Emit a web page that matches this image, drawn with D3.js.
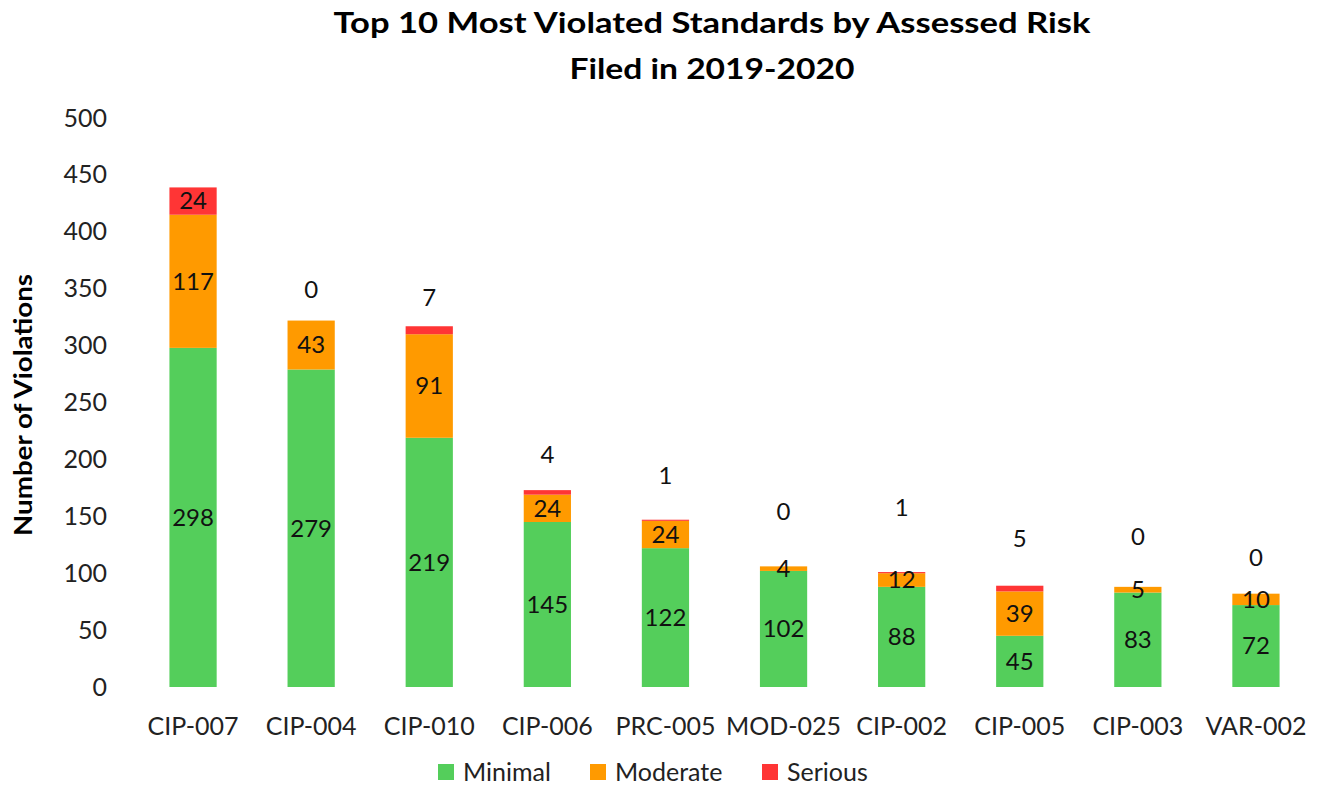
<!DOCTYPE html>
<html>
<head>
<meta charset="utf-8">
<script src="https://cdn.jsdelivr.net/npm/d3@7"></script>
<style>
  body { margin: 0; background: #fff; }
  svg { font-family: Lato, "Open Sans", sans-serif; }
</style>
</head>
<body>
<div id="chart"></div>
<script>
// data
const standards = ['CIP-007', 'CIP-004', 'CIP-010', 'CIP-006', 'PRC-005', 'MOD-025', 'CIP-002', 'CIP-005', 'CIP-003', 'VAR-002']
const minimal  = [298, 279, 219, 145, 122, 102, 88, 45, 83, 72]
const moderate = [117, 43, 91, 24, 24, 4, 12, 39, 5, 10]
const serious  = [24, 0, 7, 4, 1, 0, 1, 5, 0, 0]
// where the Serious labels were dragged to (in axis units), null = centred in segment
const seriousLabelAt = [null, 349, 342, 204, 186, 154, 158, 130, 132, 114]
const yTicks = [0, 50, 100, 150, 200, 250, 300, 350, 400, 450, 500]
const riskLevels = ['Minimal', 'Moderate', 'Serious']
const colors = ['#54ce5b', '#ff9a00', '#ff3535']

let width = 1322,
    height = 789

let svg = d3.select('#chart')
    .append('svg')
    .attr('width', width)
    .attr('height', height)

// build rows for the stack
let rows = standards.map(function (s, i) {
    return { name: s, Minimal: minimal[i], Moderate: moderate[i], Serious: serious[i] }
})

let x = d3.scaleBand()
    .domain(standards)
    .range([134, 1315])
    .paddingInner(0.6)
    .paddingOuter(0.3)

let y = d3.scaleLinear()
    .domain([0, 500])
    .range([687, 118])

let stacked = d3.stack().keys(riskLevels)(rows)

// title (source font is narrow and wide-set, so stretch to its width)
svg.append('text')
    .attr('x', 712).attr('y', 33)
    .attr('text-anchor', 'middle')
    .attr('font-size', 29).attr('font-weight', 'bold')
    .attr('textLength', 757).attr('lengthAdjust', 'spacingAndGlyphs')
    .text('Top 10 Most Violated Standards by Assessed Risk')
svg.append('text')
    .attr('x', 712).attr('y', 79)
    .attr('text-anchor', 'middle')
    .attr('font-size', 29).attr('font-weight', 'bold')
    .attr('textLength', 285).attr('lengthAdjust', 'spacingAndGlyphs')
    .text('Filed in 2019-2020')

// y axis, labels only
let yAxis = svg.append('g')
    .attr('transform', 'translate(107,0)')
    .call(d3.axisLeft(y).tickValues(yTicks).tickSize(0).tickPadding(0))
yAxis.select('.domain').remove()
yAxis.selectAll('text')
    .attr('font-size', 25)
    .attr('fill', '#222')
    .attr('font-family', 'Lato, sans-serif')

svg.append('text')
    .attr('transform', 'translate(32,405) rotate(-90)')
    .attr('text-anchor', 'middle')
    .attr('font-size', 25).attr('font-weight', 'bold')
    .attr('textLength', 262).attr('lengthAdjust', 'spacingAndGlyphs')
    .text('Number of Violations')

// x axis
let xAxis = svg.append('g')
    .attr('transform', 'translate(0,' + 717 + ')')
    .call(d3.axisBottom(x).tickSize(0).tickPadding(0))
xAxis.select('.domain').remove()
xAxis.selectAll('text')
    .attr('font-size', 25)
    .attr('fill', '#222')
    .attr('font-family', 'Lato, sans-serif')

// bars
let layers = svg.selectAll('g.layer')
    .data(stacked)
    .enter()
    .append('g')
    .attr('class', 'layer')
    .attr('fill', function (d, i) { return colors[i] })

layers.selectAll('rect')
    .data(function (d) { return d })
    .enter()
    .append('rect')
    .attr('x', function (d) { return x(d.data.name) })
    .attr('width', x.bandwidth())
    .attr('y', function (d) { return y(d[1]) })
    .attr('height', function (d) { return y(d[0]) - y(d[1]) })

// value labels
stacked.forEach(function (layer, li) {
    svg.append('g').selectAll('text')
        .data(layer)
        .enter()
        .append('text')
        .attr('x', function (d) { return x(d.data.name) + x.bandwidth() / 2 })
        .attr('y', function (d, i) {
            if (li == 2 && seriousLabelAt[i] != null) return y(seriousLabelAt[i])
            return y((d[0] + d[1]) / 2)
        })
        .attr('dy', '0.35em')
        .attr('text-anchor', 'middle')
        .attr('font-size', 24)
        .attr('fill', '#111')
        .text(function (d) { return d[1] - d[0] })
})

// legend
let legendX = [438, 590, 762]
let legend = svg.selectAll('g.legend')
    .data(riskLevels)
    .enter()
    .append('g')
    .attr('class', 'legend')
    .attr('transform', function (d, i) { return 'translate(' + legendX[i] + ',772)' })
legend.append('rect')
    .attr('x', 0).attr('y', -8)
    .attr('width', 16).attr('height', 16)
    .attr('fill', function (d, i) { return colors[i] })
legend.append('text')
    .attr('x', 25).attr('dy', '0.35em')
    .attr('font-size', 25)
    .attr('fill', '#222')
    .text(function (d) { return d })
</script>
</body>
</html>
